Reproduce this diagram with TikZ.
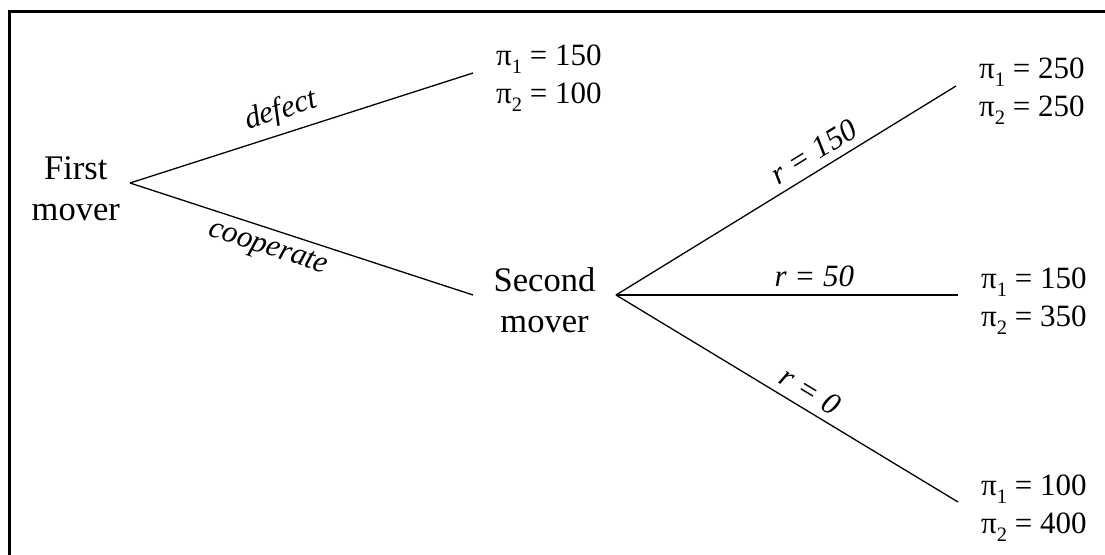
\documentclass[tikz,border=0pt]{standalone}
\usepackage{fontspec}
\setmainfont{Liberation Serif}
\newcommand{\sbs}[1]{\raisebox{-0.25em}{\fontsize{20.5}{20.5}\selectfont #1}}
\begin{document}
\begin{tikzpicture}[x=1pt,y=-1pt,
  mover/.style={font=\fontsize{34.5}{41}\selectfont, align=center, inner ysep=0pt, anchor=east},
  payoff/.style={font=\fontsize{31}{38}\selectfont, align=left, anchor=west, inner xsep=23pt, inner ysep=0pt},
  lab/.style={font=\fontsize{31}{36}\selectfont\itshape, sloped, inner sep=7.5pt},
  branch/.style={line width=1.3pt},
  frame/.style={line width=2.6pt}]
\useasboundingbox (0,0) rectangle (1105,554);
\draw[frame] (9.5,560) -- (9.5,11.3) -- (1110,11.3);

\node[mover, inner xsep=10pt] (first) at (130,189) {First\\mover};
\node[mover, inner xsep=20.5pt] (second) at (616,300) {Second\\mover};

\node[payoff] (p0) at (473,78) {π\sbs{1} = 150\\π\sbs{2} = 100};
\node[payoff] (p1) at (956,91) {π\sbs{1} = 250\\π\sbs{2} = 250};
\node[payoff] (p2) at (958,301) {π\sbs{1} = 150\\π\sbs{2} = 350};
\node[payoff] (p3) at (958,508) {π\sbs{1} = 100\\π\sbs{2} = 400};

\draw[branch] ([yshift=6pt]first.east) -- node[lab, above, pos=0.46] {defect} ([yshift=5pt]p0.west);
\draw[branch] ([yshift=6pt]first.east) -- node[lab, below, pos=0.42] {cooperate} ([yshift=5pt]second.west);
\draw[branch] ([yshift=5pt]second.east) -- node[lab, above, pos=0.61] {r = 150} ([yshift=5pt]p1.west);
\draw[branch] ([yshift=5pt]second.east) -- node[lab, above, pos=0.58] {r = 50} ([yshift=6pt]p2.west);
\draw[branch] ([yshift=5pt]second.east) -- node[lab, above, pos=0.54] {r = 0} ([yshift=6pt]p3.west);
\end{tikzpicture}
\end{document}
